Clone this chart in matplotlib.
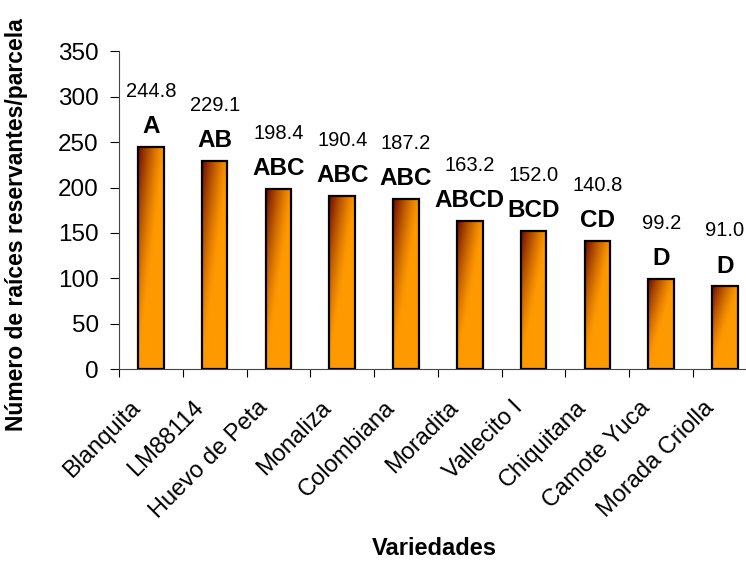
import numpy as np
import matplotlib.pyplot as plt
from matplotlib.patches import Rectangle
from matplotlib.transforms import ScaledTranslation

variedades = ['Blanquita', 'LM88114', 'Huevo de Peta', 'Monaliza', 'Colombiana',
              'Moradita', 'Vallecito I', 'Chiquitana', 'Camote Yuca', 'Morada Criolla']
raices = [244.8, 229.1, 198.4, 190.4, 187.2, 163.2, 152.0, 140.8, 99.2, 91.0]
grupos = ['A', 'AB', 'ABC', 'ABC', 'ABC', 'ABCD', 'BCD', 'CD', 'D', 'D']

plt.rcParams['font.family'] = ['Liberation Sans', 'DejaVu Sans']

fig = plt.figure(figsize=(7.46, 5.62), dpi=100)
ax = fig.add_axes([0.1595, 0.3434, 0.855, 0.565])

bar_w = 0.40
dark = np.array([0.42, 0.04, 0.0])
orange = np.array([1.0, 0.6, 0.0])

# diagonal shading: dark at the top-left corner, orange towards bottom/right
u = np.linspace(0, 1, 60)[None, :]
v = np.linspace(1, 0, 120)[:, None]
d = np.clip(v - 0.95 * u, 0, 1) ** 1.3
grad = orange * (1 - d[..., None]) + dark * d[..., None]

x = np.arange(len(raices))
bars = ax.bar(x, raices, width=bar_w, facecolor='none', edgecolor='black',
              linewidth=1.6, zorder=3)
for b in bars:
    x0, y0 = b.get_x(), b.get_y()
    w, h = b.get_width(), b.get_height()
    im = ax.imshow(grad, extent=[x0, x0 + w, 0, h], aspect='auto',
                   interpolation='bilinear', zorder=2)
    clip = Rectangle((x0, y0), w, h, transform=ax.transData)
    im.set_clip_path(clip)

for xi, val, g in zip(x, raices, grupos):
    ax.annotate(g, (xi, val), xytext=(0, 10), textcoords='offset points',
                ha='center', va='baseline', fontsize=17.5, fontweight='bold')
    ax.annotate(f'{val:.1f}', (xi, val), xytext=(0, 36), textcoords='offset points',
                ha='center', va='baseline', fontsize=14.5)

ax.set_xlim(-0.5, len(raices) - 0.5)
ax.set_ylim(0, 350)
ax.set_yticks(np.arange(0, 351, 50))
ax.tick_params(axis='y', labelsize=17.5, length=6.5, width=0.8, pad=8, direction='out')

# ticks sit between categories, labels at the bar centres
ax.set_xticks(np.arange(-0.5, len(raices), 1.0))
ax.set_xticklabels([])
ax.tick_params(axis='x', which='major', length=6, width=0.8, direction='out')
ax.set_xticks(x, minor=True)
ax.set_xticklabels(variedades, minor=True, rotation=45, ha='right',
                   rotation_mode='anchor', fontsize=17)
ax.tick_params(axis='x', which='minor', length=0, pad=20)
shift = ScaledTranslation(-0.22, 0, fig.dpi_scale_trans)
for lbl in ax.get_xticklabels(minor=True):
    lbl.set_transform(lbl.get_transform() + shift)

for s in ['top', 'right']:
    ax.spines[s].set_visible(False)
ax.spines['left'].set_linewidth(0.8)
ax.spines['bottom'].set_linewidth(0.8)
ax.spines['left'].set_color('#444444')
ax.spines['bottom'].set_color('#444444')

ax.set_ylabel('Número de raíces reservantes/parcela', fontsize=16.5,
              fontweight='bold')
ax.yaxis.set_label_coords(-0.142, 0.454)
ax.set_xlabel('Variedades', fontsize=17, fontweight='bold')
ax.xaxis.set_label_coords(0.494, -0.53)

fig.savefig('out.png', dpi=100)
